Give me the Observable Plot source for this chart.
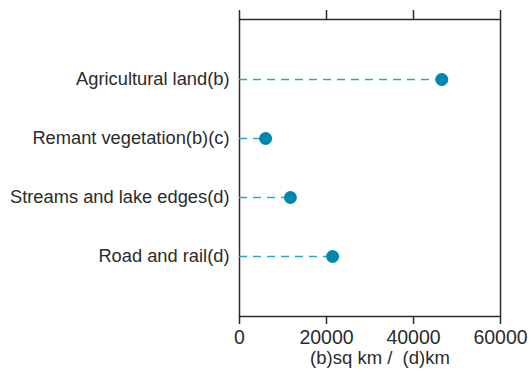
<!DOCTYPE html>
<html>
<head>
<meta charset="utf-8">
<script src="https://cdn.jsdelivr.net/npm/d3@7"></script>
<script src="https://cdn.jsdelivr.net/npm/@observablehq/plot@0.6"></script>
<style>
  html, body { margin: 0; padding: 0; background: #fff; }
  #chart svg { display: block; }
</style>
</head>
<body>
<div id="chart"></div>
<script>
// Land-use categories and their extent: (b) sq km, (d) km
const categories = ["Agricultural land(b)", "Remant vegetation(b)(c)", "Streams and lake edges(d)", "Road and rail(d)"];
const values = [46500, 6000, 11700, 21400];
const xTicks = [0, 20000, 40000, 60000];
const xLabel = "(b)sq km /  (d)km";

const data = categories.map((category, i) => ({category, value: values[i]}));

const ink = "#2b2b2b";
const lineColor = "#2aa6c9";
const dotColor = "#0087ae";

const chart = Plot.plot({
  width: 531,
  height: 374,
  marginLeft: 239,
  marginRight: 31,
  marginTop: 19,
  marginBottom: 58,
  style: {fontFamily: "'Liberation Sans', Arial, sans-serif", color: ink, background: "#fff"},
  x: {domain: [0, 60000]},
  y: {type: "point", domain: categories, padding: 1},
  marks: [
    Plot.frame({stroke: ink, strokeWidth: 1.5}),
    Plot.axisX({anchor: "top", ticks: xTicks, tickSize: 10, tickFormat: () => "", label: null, stroke: ink, strokeWidth: 1.5}),
    Plot.axisX({anchor: "bottom", ticks: xTicks, tickSize: 8, tickPadding: 6, tickFormat: d => String(d), fontSize: 19.5, label: null, stroke: ink, strokeWidth: 1.5, fill: ink}),
    Plot.axisY({tickSize: 0, tickPadding: 10, fontSize: 18.3, label: null, fill: ink}),
    Plot.ruleY(data, {y: "category", x1: 0, x2: "value", stroke: lineColor, strokeWidth: 1.6, strokeDasharray: "8,6"}),
    Plot.dot(data, {x: "value", y: "category", r: 6.5, fill: dotColor}),
    Plot.text([xLabel], {frameAnchor: "bottom", dx: 10, dy: 47, fontSize: 18.5, fill: ink})
  ]
});

document.getElementById("chart").appendChild(chart);
</script>
</body>
</html>
